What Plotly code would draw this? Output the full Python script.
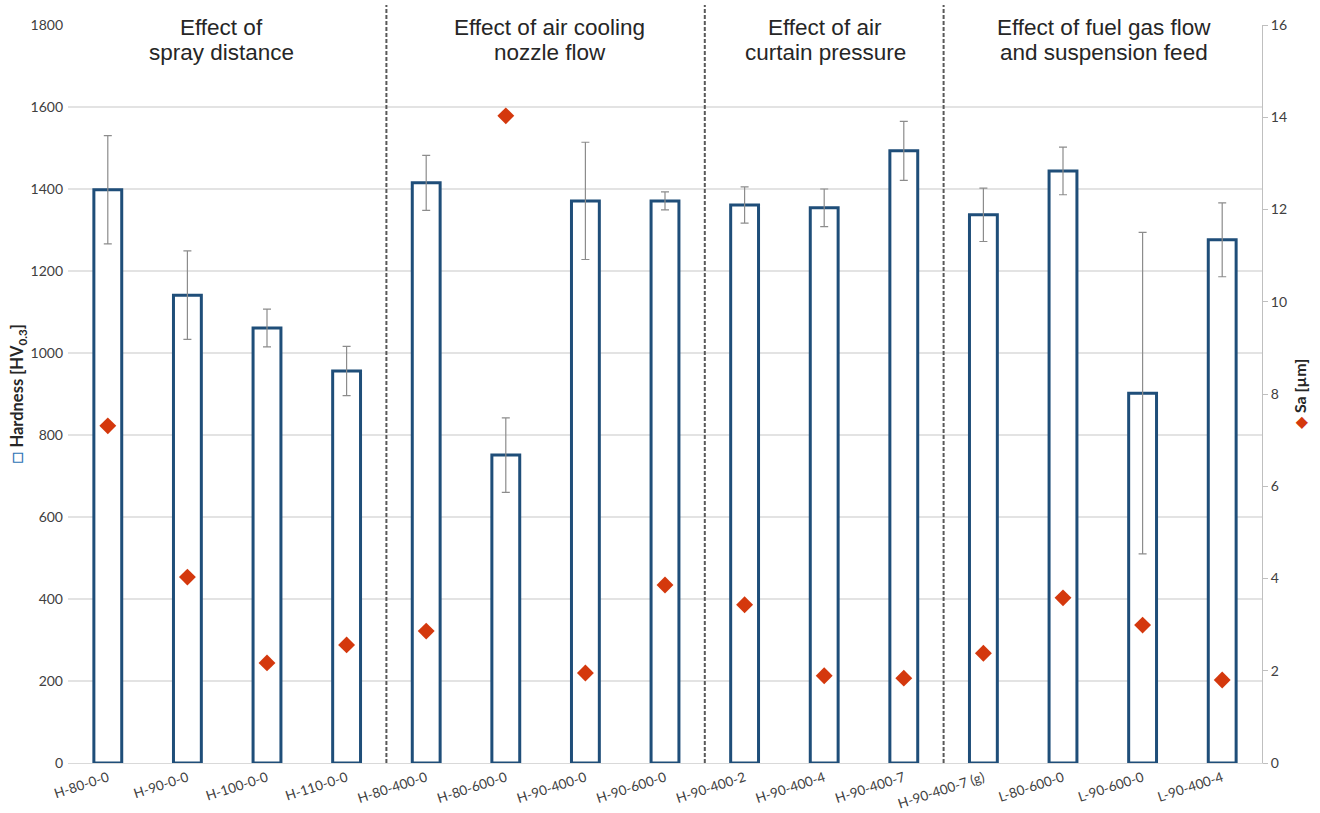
import plotly.graph_objects as go

categories = ["H-80-0-0", "H-90-0-0", "H-100-0-0", "H-110-0-0", "H-80-400-0", "H-80-600-0",
              "H-90-400-0", "H-90-600-0", "H-90-400-2", "H-90-400-4", "H-90-400-7",
              "H-90-400-7 (g)", "L-80-600-0", "L-90-600-0", "L-90-400-4"]
hardness = [1398, 1141, 1061, 956, 1415, 751, 1371, 1371, 1361, 1354, 1493, 1337, 1444, 902, 1276]
hardness_err = [132, 108, 46, 60, 67, 91, 143, 22, 44, 46, 72, 65, 58, 392, 90]
sa = [7.31, 4.03, 2.17, 2.56, 2.86, 14.03, 1.95, 3.86, 3.43, 1.89, 1.84, 2.38, 3.58, 2.99, 1.80]

group_title_line1 = ["Effect of", "Effect of air cooling", "Effect of air", "Effect of fuel gas flow"]
group_title_line2 = ["spray distance", "nozzle flow", "curtain pressure", "and suspension feed"]
group_title_pos = [1.43, 5.55, 9.01, 12.52]
separators = [3.5, 7.5, 10.5]

xi = list(range(len(categories)))

fig = go.Figure()
fig.add_trace(go.Bar(
    x=xi, y=hardness, width=0.35,
    marker=dict(color="white", line=dict(color="#1f4e79", width=3)),
    error_y=dict(type="data", array=hardness_err, visible=True, color="#8c8c8c",
                 thickness=1.2, width=4),
    showlegend=False,
))
fig.add_trace(go.Scatter(
    x=xi, y=sa, yaxis="y2", mode="markers",
    marker=dict(symbol="diamond", size=13, color="#d4380d"),
    showlegend=False,
))

for s in separators:
    fig.add_shape(type="line", xref="x", yref="paper", x0=s, x1=s, y0=0, y1=1.027,
                  line=dict(color="#595959", width=2, dash="4px,2px"))

title_font = dict(family="Liberation Sans, Arial", size=22.5, color="#262626")
for l1, l2, p in zip(group_title_line1, group_title_line2, group_title_pos):
    fig.add_annotation(x=p, xref="x", y=0.996, yref="paper", text=l1, showarrow=False,
                       xanchor="center", yanchor="middle", font=title_font)
    fig.add_annotation(x=p, xref="x", y=0.963, yref="paper", text=l2, showarrow=False,
                       xanchor="center", yanchor="middle", font=title_font)

tickfont = dict(family="Lato, Open Sans", size=14, color="#404040")
xtickfont = dict(family="Lato, Open Sans", size=13.5, color="#404040")
fig.update_layout(
    width=1320, height=813,
    margin=dict(l=68, r=58, t=25, b=50),
    plot_bgcolor="white", paper_bgcolor="white",
    xaxis=dict(range=[-0.5, 14.5], tickmode="array", tickvals=xi, ticktext=categories,
               tickangle=-18, tickfont=xtickfont, showgrid=False, showline=True,
               linecolor="#d9d9d9", linewidth=1, ticks="", zeroline=False,
               ticklabelstandoff=1, automargin=False),
    yaxis=dict(range=[0, 1800], dtick=200, showgrid=True, gridcolor="#e3e3e3", gridwidth=1.5,
               tickfont=tickfont, ticks="", ticklabelstandoff=4, automargin=False,
               zeroline=False, showline=False,
               title=dict(text='<span style="color:#2e75b6;font-size:20px">□</span> <b>Hardness [HV<sub>0.3</sub>]</b>',
                          font=dict(family="Lato, Open Sans", size=16.5, color="#262626"), standoff=2)),
    yaxis2=dict(range=[0, 16], dtick=2, overlaying="y", side="right", showgrid=False,
                tickfont=tickfont, ticks="outside", ticklen=5, tickcolor="#bfbfbf",
                showline=True, linecolor="#bfbfbf", linewidth=1, zeroline=False, automargin=False,
                title=dict(text='<span style="color:#d4380d">◆</span> <b>Sa [µm]</b>',
                           font=dict(family="Lato, Open Sans", size=16, color="#262626"), standoff=8)),
)

fig.write_html("out.html", config={"displayModeBar": False},
               post_script="document.body.style.margin='0';")
